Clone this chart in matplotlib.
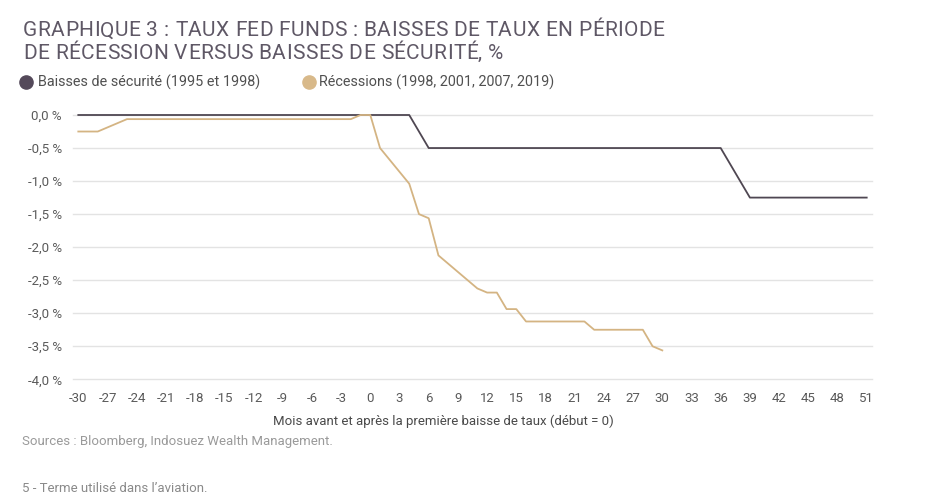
import matplotlib.pyplot as plt
import numpy as np
from matplotlib.font_manager import FontProperties

W, H = 925, 497

# données (mois, taux en %)
secu_mois = [-30, 4, 5, 6, 36, 37, 38, 39, 51]
secu_taux = [0.0, 0.0, -0.25, -0.5, -0.5, -0.75, -1.0, -1.25, -1.25]

rec_mois = [-30, -28, -25, -2, -1, 0, 1, 4, 5, 6, 7, 11, 12, 13, 14, 15,
            16, 22, 23, 28, 29, 30]
rec_taux = [-0.25, -0.25, -0.0625, -0.0625, 0.0, 0.0, -0.5, -1.04, -1.5,
            -1.5625, -2.125, -2.625, -2.6875, -2.6875, -2.9375, -2.9375,
            -3.125, -3.125, -3.25, -3.25, -3.5, -3.5625]

x_ticks = list(range(-30, 52, 3))
y_ticks = [0.0, -0.5, -1.0, -1.5, -2.0, -2.5, -3.0, -3.5, -4.0]
y_labels = ["0,0 %", "-0,5 %", "-1,0 %", "-1,5 %", "-2,0 %", "-2,5 %",
            "-3,0 %", "-3,5 %", "-4,0 %"]

dark = "#4f4752"
gold = "#d4b483"
grid_c = "#e3e3e3"
txt = "#5a5a5a"

plt.rcParams["font.family"] = ["Roboto", "DejaVu Sans"]

fig = plt.figure(figsize=(W / 100, H / 100), dpi=100)
renderer = fig.canvas.get_renderer()


def fx(x):
    return x / W


def fy(y):
    return 1 - y / H


def tracked(x, y, s, size, color, track):
    # texte avec espacement des lettres (en pixels)
    prop = FontProperties(family="Roboto", size=size)
    bar = renderer.get_text_width_height_descent("|", prop, ismath=False)[0]
    for i, ch in enumerate(s):
        if ch == " ":
            continue
        w = renderer.get_text_width_height_descent(s[:i] + "|", prop, ismath=False)[0] - bar
        fig.text(fx(x + w + i * track), fy(y), ch, fontproperties=prop,
                 color=color, va="center", ha="left")


ax_l, ax_r, ax_t, ax_b = 73, 872, 115, 379.3
ax = fig.add_axes([fx(ax_l), fy(ax_b), (ax_r - ax_l) / W, (ax_b - ax_t) / H])

ax.plot(secu_mois, secu_taux, color=dark, lw=1.3, clip_on=False, zorder=3)
ax.plot(rec_mois, rec_taux, color=gold, lw=1.3, clip_on=False, zorder=3)

ax.set_xlim(-30.545, 51.545)
ax.set_ylim(-4.0, 0.0)
ax.set_xticks(x_ticks)
ax.set_xticklabels([str(t) for t in x_ticks])
ax.set_yticks(y_ticks)
ax.set_yticklabels(y_labels)
ax.tick_params(length=0, labelsize=9.5, colors=txt)
ax.tick_params(axis="x", pad=9.5)
ax.tick_params(axis="y", pad=8)
for s in ax.spines.values():
    s.set_visible(False)
ax.grid(axis="y", color=grid_c, lw=1)
ax.set_axisbelow(True)
for g in ax.get_ygridlines():
    g.set_clip_on(False)

# titre
title_c = "#5f5866"
tracked(23, 31, "GRAPHIQUE 3 : TAUX FED FUNDS : BAISSES DE TAUX EN PÉRIODE",
        15, title_c, 0.4)
tracked(23, 53.5, "DE RÉCESSION VERSUS BAISSES DE SÉCURITÉ, %",
        15, title_c, 0.4)

# légende
leg_y = 82
fig.lines.append(plt.Line2D([fx(26)], [fy(leg_y)], marker="o", ms=9.5,
                            color="#54495a", transform=fig.transFigure))
fig.text(fx(38), fy(leg_y), "Baisses de sécurité (1995 et 1998)", fontsize=10.4,
         color="#505050", va="center", ha="left")
fig.lines.append(plt.Line2D([fx(309)], [fy(leg_y)], marker="o", ms=9.5,
                            color="#d8b98a", transform=fig.transFigure))
fig.text(fx(319), fy(leg_y), "Récessions (1998, 2001, 2007, 2019)", fontsize=10.4,
         color="#505050", va="center", ha="left")

fig.text(fx(443), fy(421), "Mois avant et après la première baisse de taux (début = 0)",
         fontsize=9.5, color="#4a4a4a", va="center", ha="center")
fig.text(fx(22), fy(441), "Sources : Bloomberg, Indosuez Wealth Management.",
         fontsize=9.5, color="#9a9a9a", va="center", ha="left")
fig.text(fx(22), fy(489), "5 - Terme utilisé dans l’aviation.",
         fontsize=9.5, color="#8a8a8a", va="center", ha="left")

fig.savefig("out.png", dpi=100)
